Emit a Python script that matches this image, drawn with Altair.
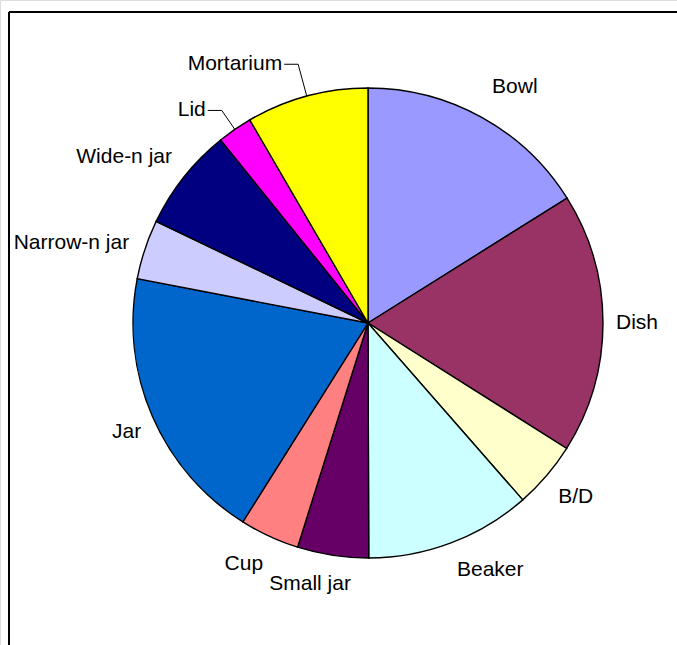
import altair as alt
import pandas as pd

# ---- data (percent of total) ----
categories = ["Bowl", "Dish", "B/D", "Beaker", "Small jar", "Cup", "Jar",
              "Narrow-n jar", "Wide-n jar", "Lid", "Mortarium"]
values = [16.1, 17.9, 4.6, 11.4, 4.9, 4.1, 19.1, 4.1, 7.1, 2.4, 8.4]

# ---- style ----
colors = ["#9999FF", "#993366", "#FFFFCC", "#CCFFFF", "#660066", "#FF8080",
          "#0066CC", "#CCCCFF", "#000080", "#FF00FF", "#FFFF00"]

# ---- label layout tuning (Excel-like label placement) ----
label_dx = [17, -3, 4, 27, -18, -13, 5, 1, -11, 0, 0]
label_dy = [-1, 0, 0, -5, -2, 1, 2, 18, 19, 0, 0]
has_leader = [0, 0, 0, 0, 0, 0, 0, 0, 0, 1, 1]
elbow_r = [0, 0, 0, 0, 0, 0, 0, 0, 0, 258, 268]

CX, CY, R = 368, 323, 235
FONT = "Liberation Sans"
FS = 21

df = pd.DataFrame({
    "idx": list(range(len(categories))),
    "category": categories,
    "value": values,
    "ndx": label_dx,
    "ndy": label_dy,
    "leader": has_leader,
    "er": elbow_r,
})

base = alt.Chart(df).transform_joinaggregate(
    total="sum(value)"
).transform_window(
    cum="sum(value)", sort=[alt.SortField("idx")], frame=[None, 0]
).transform_calculate(
    mid="(datum.cum - datum.value/2) / datum.total * 2 * PI",
    hw=f"length(datum.category) * {FS*0.5} / 2",
).transform_calculate(
    lr=f"{R} + 16 + datum.hw * abs(sin(datum.mid)) + 8 * abs(cos(datum.mid))",
).transform_calculate(
    lx=f"{CX} + datum.lr * sin(datum.mid) + datum.ndx",
    ly=f"{CY} - datum.lr * cos(datum.mid) + datum.ndy",
    edx=f"{CX} + {R} * sin(datum.mid)",
    edy=f"{CY} - {R} * cos(datum.mid)",
    elx=f"{CX} + datum.er * sin(datum.mid)",
    ely=f"{CY} - datum.er * cos(datum.mid)",
).transform_calculate(
    hx="datum.elx - 14",
    tx="datum.elx - 16",
)

pie = alt.Chart(df).mark_arc(
    radius=R, stroke="black", strokeWidth=1.4
).encode(
    theta=alt.Theta("value:Q", stack=True),
    color=alt.Color("category:N", scale=alt.Scale(domain=categories, range=colors), legend=None),
    order=alt.Order("idx:Q"),
    x=alt.value(CX),
    y=alt.value(CY),
)

labels = base.transform_filter("datum.leader == 0").mark_text(
    font=FONT, fontSize=FS, color="black", align="center", baseline="middle"
).encode(
    x=alt.X("lx:Q", scale=None),
    y=alt.Y("ly:Q", scale=None),
    text="category:N",
)

lead_base = base.transform_filter("datum.leader == 1")

leader1 = lead_base.mark_rule(color="black", strokeWidth=1).encode(
    x=alt.X("edx:Q", scale=None), y=alt.Y("edy:Q", scale=None),
    x2="elx:Q", y2="ely:Q",
)
leader2 = lead_base.mark_rule(color="black", strokeWidth=1).encode(
    x=alt.X("elx:Q", scale=None), y=alt.Y("ely:Q", scale=None),
    x2="hx:Q", y2="ely:Q",
)
lead_labels = lead_base.mark_text(
    font=FONT, fontSize=FS, color="black", align="right", baseline="middle"
).encode(
    x=alt.X("tx:Q", scale=None),
    y=alt.Y("ely:Q", scale=None),
    text="category:N",
)

frame_top = alt.Chart(df).mark_rule(color="black", strokeWidth=2).encode(
    x=alt.value(9), x2=alt.value(680), y=alt.value(12)
)
frame_left = alt.Chart(df).mark_rule(color="black", strokeWidth=2).encode(
    x=alt.value(9), y=alt.value(12), y2=alt.value(650)
)

chart = alt.layer(
    pie, labels, leader1, leader2, lead_labels, frame_top, frame_left
).properties(
    width=677, height=645,
    autosize=alt.AutoSizeParams(type="none"),
    padding=0,
).configure_view(stroke=None).configure(background="white")

chart.save("out.html", embed_options={"renderer": "svg", "actions": False})
